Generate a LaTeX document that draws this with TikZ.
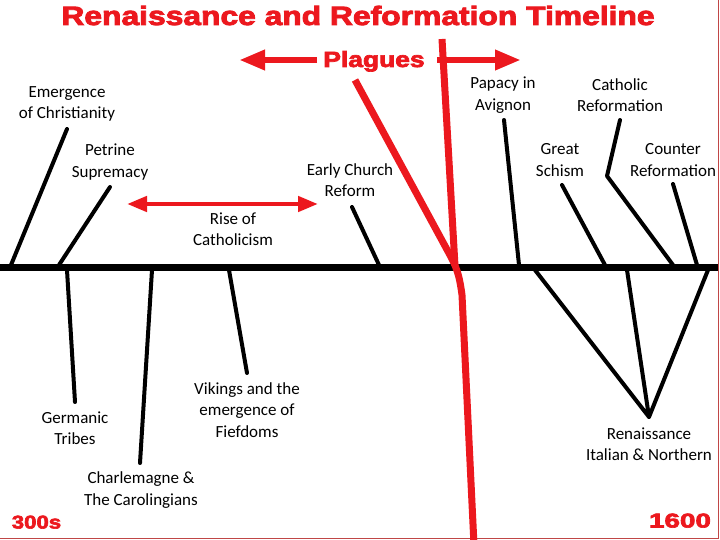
\documentclass[tikz,border=0pt]{standalone}
\usepackage{fontspec}
\usetikzlibrary{arrows.meta}
\newfontfamily\heavy{Liberation Sans Bold}[FakeBold=3]
\newfontfamily\lab{Carlito}
\definecolor{tred}{RGB}{236,24,30}
\definecolor{bred}{RGB}{192,70,70}
\tikzset{
  lbl/.style={font=\lab\fontsize{17}{21.5}\selectfont, align=center, inner sep=0pt, text=black},
  big/.style={font=\heavy\fontsize{#1}{#1}\selectfont, text=tred, inner sep=0pt, anchor=base},
  stick/.style={draw=black, line width=4pt, line cap=round, line join=round},
  redline/.style={draw=tred, line width=7pt, line join=round},
  plaguearrow/.style={draw=tred, line width=6.5pt, -{Triangle[length=26pt,width=19pt]}},
  risearrow/.style={draw=tred, line width=4.5pt, {Triangle[length=20pt,width=15pt]}-{Triangle[length=20pt,width=15pt]}},
}
\begin{document}
\begin{tikzpicture}[x=1pt,y=-1pt]
\useasboundingbox (0,0) rectangle (720,540);
\fill[white] (0,0) rectangle (720,540);
% border
\draw[bred, line width=1.5pt] (718.5,0) -- (718.5,538.5) -- (0,538.5);

% title texts
\node[big=26.5] (title) at (358,25) {\scalebox{1.2}[1]{Renaissance and Reformation Timeline}};
\node[big=22] (plagues) at (374,67) {\scalebox{1.2}[1]{Plagues}};
\node[big=18.5] (start) at (36.5,528.5) {\scalebox{1.2}[1]{300s}};
\node[big=20] (end) at (680,527.5) {\scalebox{1.39}[1]{1600}};

% main timeline
\coordinate (tl0) at (0,267.5);
\coordinate (tl1) at (718,267.5);
\draw[black, line width=7pt] (tl0) -- (tl1);

% labels
\node[lbl] (emer) at (67,104) {Emergence\\of Christianity};
\node[lbl] (petr) at (110,162) {Petrine\\Supremacy};
\node[lbl] (early) at (350,180) {Early Church\\Reform};
\node[lbl] (rise) at (233,229) {Rise of\\Catholicism};
\node[lbl] (papacy) at (503,95) {Papacy in\\Avignon};
\node[lbl] (cathref) at (620,95) {Catholic\\Reformation};
\node[lbl] (schism) at (560,160) {Great\\Schism};
\node[lbl] (counter) at (673,160) {Counter\\Reformation};
\node[lbl] (germ) at (75,428) {Germanic\\Tribes};
\node[lbl] (charl) at (141,490) {Charlemagne \&\\The Carolingians};
\node[lbl] (vik) at (247,410) {Vikings and the\\emergence of\\Fiefdoms};
\node[lbl] (ren) at (649,444) {Renaissance\\Italian \& Northern};

% connector end points
\coordinate (emerA) at (67,129);   \coordinate (emerB) at (11,265);
\coordinate (petrA) at (110,187);  \coordinate (petrB) at (59,265);
\coordinate (earlyA) at (352,207); \coordinate (earlyB) at (379,265);
\coordinate (papA) at (504,120);   \coordinate (papB) at (519,265);
\coordinate (schA) at (562,185);   \coordinate (schB) at (605,265);
\coordinate (catA) at (620,120);   \coordinate (catK) at (607,176); \coordinate (catB) at (673,265);
\coordinate (cntA) at (673,184);   \coordinate (cntB) at (697,265);
\coordinate (germA) at (67,270);   \coordinate (germB) at (75,402);
\coordinate (charA) at (152,270);  \coordinate (charB) at (140,463);
\coordinate (vikA) at (229,270);   \coordinate (vikB) at (247,373);
\coordinate (renP) at (649,417);
\coordinate (renA) at (535,270);   \coordinate (renB) at (627,270); \coordinate (renC) at (708,270);

\draw[stick] (emerA) -- (emerB);
\draw[stick] (petrA) -- (petrB);
\draw[stick] (earlyA) -- (earlyB);
\draw[stick] (papA) -- (papB);
\draw[stick] (schA) -- (schB);
\draw[stick] (catA) -- (catK) -- (catB);
\draw[stick] (cntA) -- (cntB);
\draw[stick] (germA) -- (germB);
\draw[stick] (charA) -- (charB);
\draw[stick] (vikA) -- (vikB);
\draw[stick] (renA) -- (renP) -- (renB);
\draw[stick] (renP) -- (renC);

% red lines
\coordinate (vtop) at (442,39);
\coordinate (junc) at (455,266);
\coordinate (dtop) at (355,80);
\coordinate (dmid) at (451,257);
\coordinate (low1) at (462,295);
\coordinate (lowE) at (474,545);
\draw[redline] (vtop) -- (junc);
\draw[redline] (dtop) -- (dmid) .. controls (458,270) and (460,280) .. (low1) -- (lowE);

% arrows
\coordinate (plL0) at (317,60); \coordinate (plL1) at (239,60);
\coordinate (plR0) at (437,60); \coordinate (plR1) at (521,60);
\draw[plaguearrow] (plL0) -- (plL1);
\draw[plaguearrow] (plR0) -- (plR1);
\coordinate (riseL) at (127,204); \coordinate (riseR) at (318,204);
\draw[risearrow] (riseL) -- (riseR);
\end{tikzpicture}
\end{document}
